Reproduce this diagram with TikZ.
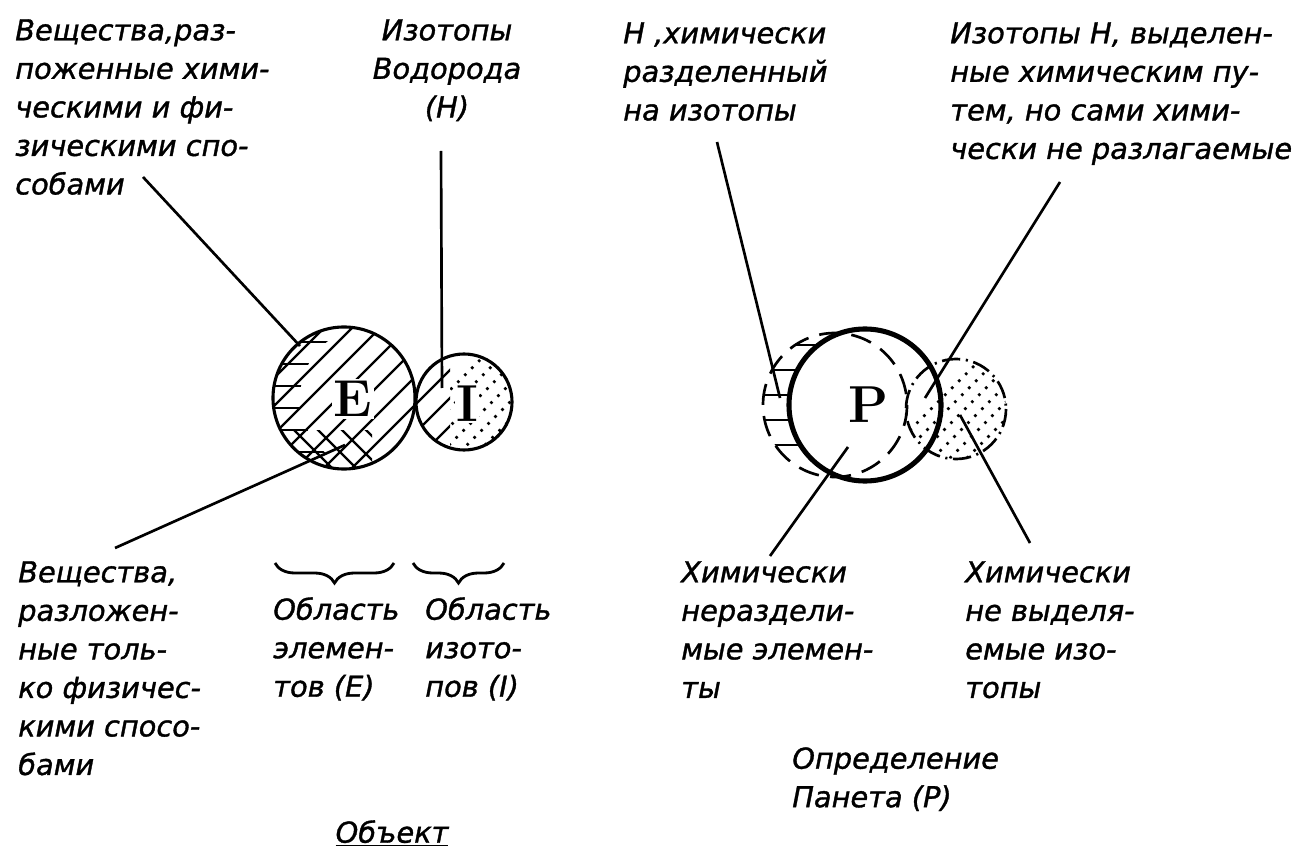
\documentclass[tikz,border=0pt]{standalone}
\usepackage{fontspec}
\usepackage{tikz}
\usetikzlibrary{calc,positioning,decorations.pathreplacing}
\newfontfamily\gostfont[FakeBold=1.2]{DejaVu Sans}
\tikzset{
  dgText/.style={
    font=\gostfont\itshape\fontsize{20.5pt}{27.4pt}\selectfont,
    align=left,
    inner sep=0pt,
    anchor=north west
  },
  dgRing/.style={
    circle,
    draw,
    line width=2.2pt,
    inner sep=0pt
  },
  dgLetter/.style={
    font=\fontsize{37pt}{37pt}\selectfont\bfseries,
    fill=white,
    inner sep=1.5pt
  },
  dgLeader/.style={
    line width=1.9pt
  },
  dgHatch/.style={
    line width=1.6pt
  },
  dgDots/.style={
    line width=2.6pt,
    line cap=round,
    dash pattern=on 0pt off 7pt
  },
  dgBrace/.style={
    decorate,
    decoration={brace, mirror, amplitude=0.5cm},
    line width=2pt
  }
}

\begin{document}
\begin{tikzpicture}[x=0.025cm, y=-0.025cm]
  \useasboundingbox (0,0) rectangle (1307,859);

  % object: elements E and isotopes I
  \begin{scope}
    \clip (344,398) circle [radius=71];
    \foreach \k in {-6,...,12}
      \draw[dgHatch] (180+28*\k,500) -- ++(200,-200);
  \end{scope}
  \begin{scope}[even odd rule]
    \clip (344,398) circle [radius=71];
    \clip (260,320) rectangle (430,480) (372,398) circle [radius=72];
    \foreach \y in {342,364,...,460}
      \draw[dgHatch] (260,\y) -- (380,\y);
  \end{scope}
  \begin{scope}
    \clip (344,398) circle [radius=71];
    \clip (285,430) rectangle (372,472);
    \foreach \k in {0,...,5}
      \draw[dgHatch] (240+24*\k,400) -- ++(80,80);
  \end{scope}
  \begin{scope}
    \clip (464,402) circle [radius=48];
    \clip (400,340) rectangle (450,460);
    \foreach \k in {-6,...,16}
      \draw[dgHatch] (180+28*\k,500) -- ++(200,-200);
  \end{scope}
  \begin{scope}
    \clip (464,402) circle [radius=48];
    \clip (450,340) rectangle (520,460);
    \foreach \k in {0,...,12}
      \draw[dgDots] (340+18*\k,500) -- ++(200,-200);
  \end{scope}

  \node[dgRing, minimum size=3.55cm] (eRing) at (344,398) {};
  \node[dgRing, minimum size=2.4cm] (iRing) at (464,402) {};
  \node[dgLetter] (eLbl) at (353,399) {E};
  \node[dgLetter, inner sep=0.5pt] (iLbl) at (467,404) {I};

  % Paneth definition P
  \begin{scope}[even odd rule]
    \clip (835,405) circle [radius=72];
    \clip (750,320) rectangle (950,490) (865,405) circle [radius=76];
    \foreach \y in {345,370,...,465}
      \draw[dgHatch] (750,\y) -- (870,\y);
  \end{scope}
  \begin{scope}
    \clip (956,409) circle [radius=50];
    \foreach \k in {0,...,13}
      \draw[dgDots] (820+17*\k,520) -- ++(220,-220);
  \end{scope}
  \draw[line width=1.9pt, dash pattern=on 15pt off 8pt] (835,405) circle [radius=72];
  \draw[line width=1.9pt, dash pattern=on 13pt off 4pt on 1.5pt off 4pt] (956,409) circle [radius=50];
  \node[dgRing, line width=3.6pt, minimum size=3.8cm] (pRing) at (865,405) {};
  \node[dgLetter, fill=none] (pLbl) at (868,405) {P};

  % texts
  \node[dgText] (tlText) at (15,19) {Вещества,раз-\\поженные хими-\\ческими и фи-\\зическими спо-\\собами};
  \node[dgText, align=center, anchor=north] (hText) at (447,19) {Изотопы\\Водорода\\(H)};
  \node[dgText] (hsText) at (623,22) {H ,химически\\разделенный\\на изотопы};
  \node[dgText] (isoText) at (950,22) {Изотопы H, выделен-\\ные химическим пу-\\тем, но сами хими-\\чески не разлагаемые};
  \node[dgText] (physText) at (18,561) {Вещества,\\разложен-\\ные толь-\\ко физичес-\\кими спосо-\\бами};
  \node[dgText] (elText) at (273,597) {Область\\элемен-\\тов (E)};
  \node[dgText] (isText) at (425,597) {Область\\изото-\\пов (I)};
  \node[dgText] (ceText) at (681,561) {Химически\\нераздели-\\мые элемен-\\ты};
  \node[dgText] (ciText) at (965,561) {Химически\\не выделя-\\емые изо-\\топы};
  \node[dgText] (panText) at (792,747) {Определение\\Панета (P)};
  \node[dgText, anchor=north] (objText) at (392,820) {\underline{Объект}};

  % leader ends
  \coordinate (tlFoot) at (143,177);
  \coordinate (eTop) at (300,346);
  \coordinate (hFoot) at (441,151);
  \coordinate (iMid) at (442,388);
  \coordinate (physHead) at (115,548);
  \coordinate (eLow) at (345,445);
  \coordinate (hsFoot) at (717,142);
  \coordinate (pLeft) at (780,398);
  \coordinate (isoFoot) at (1060,182);
  \coordinate (pRight) at (925,398);
  \coordinate (ceHead) at (770,556);
  \coordinate (pLow) at (848,447);
  \coordinate (ciHead) at (1030,543);
  \coordinate (iOut) at (960,415);

  \draw[dgLeader] (tlFoot) -- (eTop);
  \draw[dgLeader] (hFoot) -- (iMid);
  \draw[dgLeader] (physHead) -- (eLow);
  \draw[dgLeader] (hsFoot) -- (pLeft);
  \draw[dgLeader] (isoFoot) -- (pRight);
  \draw[dgLeader] (ceHead) -- (pLow);
  \draw[dgLeader] (ciHead) -- (iOut);

  % braces
  \coordinate (elL) at (275,563);
  \coordinate (elR) at (394,563);
  \coordinate (isL) at (413,563);
  \coordinate (isR) at (504,563);
  \draw[dgBrace] (elL) -- (elR);
  \draw[dgBrace] (isL) -- (isR);
\end{tikzpicture}
\end{document}
